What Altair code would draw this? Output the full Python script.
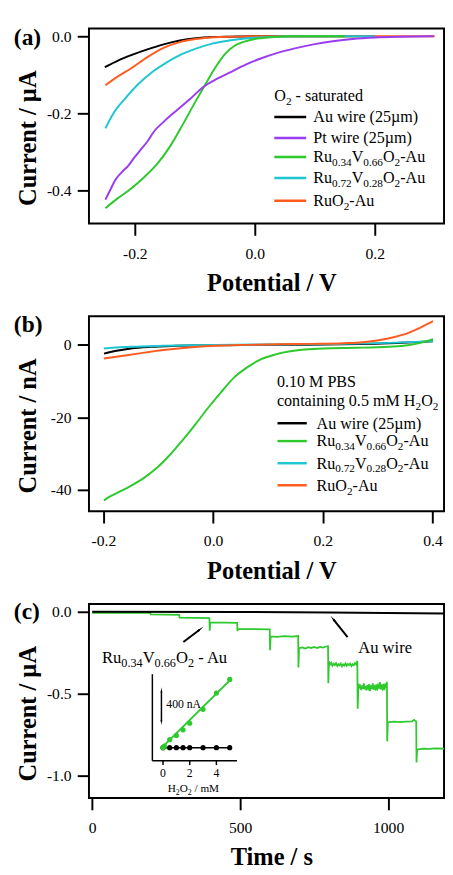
import altair as alt
import pandas as pd

FONT = "Liberation Serif"
BLACK, PURPLE, GREEN, CYAN, ORANGE = "#000000", "#9a3cf2", "#2dc92d", "#1ec6d2", "#ff5b1f"
W = 364

# ---------------- panel (a): O2-saturated, current / uA vs potential / V ----------------
a_au_v = [-0.250, -0.228, -0.206, -0.179, -0.152, -0.125, -0.098, -0.070, -0.040, 0.000, 0.100, 0.200]
a_au_i = [-0.080, -0.063, -0.049, -0.034, -0.021, -0.011, -0.005, -0.002, -0.001, 0.000, 0.000, 0.000]
a_pt_v = [-0.249, -0.241, -0.233, -0.222, -0.211, -0.201, -0.190, -0.179, -0.168, -0.152, -0.130, -0.108,
          -0.087, -0.065, -0.043, -0.016, 0.011, 0.038, 0.065, 0.098, 0.130, 0.163, 0.201, 0.244, 0.298]
a_pt_i = [-0.424, -0.399, -0.374, -0.353, -0.336, -0.315, -0.294, -0.273, -0.247, -0.222, -0.192, -0.163,
          -0.133, -0.112, -0.095, -0.074, -0.057, -0.043, -0.032, -0.021, -0.013, -0.007, -0.003, -0.001, 0.000]
a_g_v = [-0.249, -0.228, -0.206, -0.184, -0.163, -0.141, -0.119, -0.098, -0.081, -0.065, -0.049, -0.033,
         -0.016, 0.000, 0.027, 0.065, 0.150]
a_g_i = [-0.446, -0.420, -0.395, -0.365, -0.332, -0.285, -0.226, -0.167, -0.121, -0.079, -0.045, -0.024,
         -0.013, -0.007, -0.0025, 0.000, 0.000]
a_c_v = [-0.249, -0.236, -0.217, -0.195, -0.173, -0.152, -0.125, -0.098, -0.071, -0.043, -0.011, 0.022, 0.065, 0.200]
a_c_i = [-0.239, -0.201, -0.163, -0.125, -0.095, -0.073, -0.049, -0.032, -0.019, -0.011, -0.005, -0.002, 0.000, 0.000]
a_o_v = [-0.249, -0.228, -0.206, -0.179, -0.152, -0.125, -0.098, -0.071, -0.033, 0.020, 0.300]
a_o_i = [-0.127, -0.104, -0.083, -0.054, -0.030, -0.015, -0.007, -0.0025, -0.0008, 0.000, 0.000]

# ---------------- panel (b): 0.5 mM H2O2, current / nA vs potential / V ----------------
b_g_v = [-0.199, -0.191, -0.173, -0.150, -0.126, -0.103, -0.079, -0.056, -0.032, -0.009, 0.015, 0.038,
         0.062, 0.085, 0.114, 0.144, 0.173, 0.202, 0.261, 0.320, 0.355, 0.378, 0.401]
b_g_i = [-42.95, -42.06, -40.7, -38.9, -36.7, -34.0, -30.4, -26.4, -21.9, -17.4, -13.0, -9.1,
         -6.3, -4.2, -2.7, -1.8, -1.3, -1.07, -0.9, -0.6, -0.2, 0.45, 1.5]
b_o_v = [-0.199, -0.173, -0.138, -0.091, -0.044, 0.003, 0.062, 0.120, 0.179, 0.238, 0.273, 0.302,
         0.331, 0.355, 0.378, 0.401]
b_o_i = [-3.85, -3.3, -2.5, -1.5, -0.8, -0.36, -0.09, 0.09, 0.18, 0.36, 0.63, 1.16, 2.06, 3.13, 4.65, 6.44]
b_au_v = [-0.199, -0.179, -0.150, -0.114, -0.067, -0.009, 0.085, 0.202, 0.320, 0.401]
b_au_i = [-2.5, -1.8, -1.07, -0.63, -0.36, -0.18, -0.09, 0.0, 0.36, 0.9]
b_c_v = [-0.199, -0.150, -0.091, -0.032, 0.085, 0.202, 0.320, 0.401]
b_c_i = [-1.07, -0.63, -0.36, -0.18, 0.0, 0.09, 0.45, 0.9]

# ---------------- panel (c): amperometric response, current / uA vs time / s ----------------
c_g_t = [0, 100, 197, 198, 250, 294, 295, 350, 396, 397, 399, 450, 490, 491, 493, 550, 600,
         601, 603, 625, 650, 675, 696,
         697, 699, 710, 720, 730, 740, 750, 760, 770, 780, 790, 797,
         798, 800, 804, 808, 812, 816, 820, 824, 828, 832, 836, 840, 844, 848, 852, 856, 860, 864,
         868, 872, 876, 880, 884, 888, 892, 896,
         897, 900, 903, 906, 909, 912, 915, 918, 921, 924, 927, 930, 933, 936, 939, 942, 945, 948,
         951, 954, 957, 960, 963, 966, 969, 972, 975, 978, 981, 984, 987, 990, 993, 996,
         997, 999, 1020, 1040, 1060, 1080, 1088, 1093, 1095,
         1096, 1098, 1120, 1140, 1160, 1190]
c_g_i = [-0.006, -0.006, -0.007, -0.016, -0.017, -0.018, -0.036, -0.037, -0.039, -0.115, -0.064, -0.066,
         -0.068, -0.118, -0.104, -0.105, -0.107,
         -0.235, -0.150, -0.153, -0.149, -0.152, -0.148,
         -0.340, -0.222, -0.218, -0.224, -0.216, -0.222, -0.215, -0.221, -0.214, -0.219, -0.212, -0.210,
         -0.437, -0.302, -0.322, -0.312, -0.330, -0.318, -0.326, -0.314, -0.331, -0.320, -0.327, -0.316,
         -0.333, -0.321, -0.328, -0.315, -0.330, -0.319, -0.325, -0.317, -0.332, -0.320, -0.327, -0.313,
         -0.322, -0.300,
         -0.593, -0.440, -0.468, -0.445, -0.478, -0.452, -0.470, -0.438, -0.474, -0.455, -0.480, -0.448,
         -0.466, -0.442, -0.485, -0.450, -0.472, -0.437, -0.476, -0.458, -0.470, -0.444, -0.481, -0.452,
         -0.468, -0.430, -0.475, -0.455, -0.470, -0.440, -0.478, -0.450, -0.465, -0.428,
         -0.792, -0.676, -0.672, -0.675, -0.671, -0.670, -0.660, -0.668, -0.670,
         -0.921, -0.842, -0.836, -0.838, -0.835, -0.836]
c_au_t = [0, 500, 800, 1190]
c_au_i = [0.0, -0.001, -0.004, -0.010]
# annotation arrows (tail -> head), in data units
arr_t1 = [308, 863]
arr_i1 = [-0.185, -0.155]
arr_t2 = [363, 815]
arr_i2 = [-0.109, -0.046]
arr_ang = [52.6, 322.0]

# inset: response vs H2O2 concentration
in_g_c = [0, 0.1, 0.5, 1.0, 1.5, 2.0, 3.0, 4.0, 5.0]
in_g_i = [0, 20, 104, 159, 231, 316, 496, 707, 884]
in_b_c = [0, 0.5, 1.0, 1.5, 2.0, 3.0, 4.0, 5.0]
in_b_i = [0, 0, 0, 0, 0, 0, 0, 0]
in_fit_c = [-0.15, 5.12]
in_fit_i = [-9, 891]
in_ticks = [0, 2, 4]

# ---------------- helpers ----------------
TW = {' ': 0.25, '(': 0.333, ')': 0.333, '-': 0.333, '.': 0.25, '/': 0.278, 'A': 0.722, 'B': 0.667,
      'H': 0.722, 'M': 0.889, 'O': 0.722, 'P': 0.556, 'R': 0.667, 'S': 0.556, 'V': 0.722, 'a': 0.444,
      'c': 0.444, 'd': 0.5, 'e': 0.444, 'g': 0.5, 'i': 0.278, 'l': 0.278, 'm': 0.778, 'n': 0.5,
      'o': 0.5, 'r': 0.333, 's': 0.389, 't': 0.278, 'u': 0.5, 'w': 0.722, 'µ': 0.5}


def tw(s, fs):
    return sum(TW.get(ch, 0.5) for ch in s) * fs


def rich(parts, x, y, fs, sfs, sdy):
    rows = []
    for txt, sub in parts:
        size = sfs if sub else fs
        st = txt.lstrip(' ')
        x += tw(txt[:len(txt) - len(st)], size)
        rows.append(dict(px=x, py=y + (sdy if sub else 0), txt=st, fs=size))
        x += tw(st, size)
    return rows


def neg_expr(fmt):
    return "replace(format(datum.value, '%s'), '\u2212', '-')" % fmt


def pixel_layers(texts, label, label_y, swatches):
    layers = []
    tdf = pd.DataFrame(texts)
    layers.append(alt.Chart(tdf).mark_text(align='left', baseline='alphabetic', font=FONT, color='black').encode(
        x=alt.X('px:Q', scale=None, axis=None), y=alt.Y('py:Q', scale=None, axis=None),
        text='txt:N', size=alt.Size('fs:Q', scale=None, legend=None)))
    layers.append(alt.Chart(pd.DataFrame({'t': [label]})).mark_text(
        align='left', baseline='alphabetic', font=FONT, fontSize=24, fontWeight='bold', color='black').encode(
        x=alt.value(-77), y=alt.value(label_y), text='t:N'))
    if swatches:
        sdf = pd.DataFrame(swatches)
        layers.append(alt.Chart(sdf).mark_rule(strokeWidth=2.5).encode(
            x=alt.X('px:Q', scale=None, axis=None), x2='px2:Q',
            y=alt.Y('py:Q', scale=None, axis=None), color=alt.Color('col:N', scale=None, legend=None)))
    return layers


def curve_chart(series, xdom, ydom, xvals, yvals, xfmt, yfmt, ytitle):
    rows = []
    for name, xs, ys in series:
        for k, (xv, yv) in enumerate(zip(xs, ys)):
            rows.append(dict(s=name, x=xv, y=yv, k=k))
    df = pd.DataFrame(rows)
    names = [s[0] for s in series]
    cmap = {'Au': BLACK, 'Pt': PURPLE, 'RV34': GREEN, 'RV72': CYAN, 'RuO2': ORANGE}
    return alt.Chart(df).mark_line(strokeWidth=2, clip=True, interpolate='monotone').encode(
        x=alt.X('x:Q', scale=alt.Scale(domain=xdom, nice=False, zero=False),
                axis=alt.Axis(values=xvals, labelExpr=neg_expr(xfmt), title='Potential / V',
                              titleX=187, titleY=69, titleBaseline='alphabetic')),
        y=alt.Y('y:Q', scale=alt.Scale(domain=ydom, nice=False, zero=False),
                axis=alt.Axis(values=yvals, labelExpr=neg_expr(yfmt), title=ytitle,
                              titleX=-55, titleY=112, titleBaseline='alphabetic')),
        color=alt.Color('s:N', scale=alt.Scale(domain=names, range=[cmap[n] for n in names]), legend=None),
        order='k:Q')


FS, SFS, SDY = 16.5, 11.5, 4
RV34 = [("Ru", 0), ("0.34", 1), ("V", 0), ("0.66", 1), ("O", 0), ("2", 1), ("-Au", 0)]
RV72 = [("Ru", 0), ("0.72", 1), ("V", 0), ("0.28", 1), ("O", 0), ("2", 1), ("-Au", 0)]
RUO2 = [("RuO", 0), ("2", 1), ("-Au", 0)]

# ---------------- panel (a) ----------------
ca = curve_chart([('Au', a_au_v, a_au_i), ('RuO2', a_o_v, a_o_i), ('RV72', a_c_v, a_c_i),
                  ('RV34', a_g_v, a_g_i), ('Pt', a_pt_v, a_pt_i)],
                 [-0.2764, 0.3154], [-0.486, 0.0203], [-0.2, 0.0, 0.2], [0.0, -0.2, -0.4],
                 '.1f', '.1f', 'Current / µA')
ta = rich([("O", 0), ("2", 1), (" - saturated", 0)], 190, 74.5, FS, SFS, SDY)
a_rows = [90.7, 112.3, 131.7, 153.3, 176.7]
a_entries = [[("Au wire (25µm)", 0)], [("Pt wire (25µm)", 0)], RV34, RV72, RUO2]
a_cols = [BLACK, PURPLE, GREEN, CYAN, ORANGE]
sw_a = []
for yy, parts, col in zip(a_rows, a_entries, a_cols):
    ta += rich(parts, 230, yy + 5.5, FS, SFS, SDY)
    sw_a.append(dict(px=190, px2=222.7, py=yy, col=col))
pa = alt.layer(ca, *pixel_layers(ta, '(a)', 17, sw_a)).resolve_scale(
    x='independent', y='independent').properties(width=W, height=200)

# ---------------- panel (b) ----------------
cb = curve_chart([('Au', b_au_v, b_au_i), ('RV72', b_c_v, b_c_i), ('RuO2', b_o_v, b_o_i),
                  ('RV34', b_g_v, b_g_i)],
                 [-0.2264, 0.421], [-45.9, 7.79], [-0.2, 0.0, 0.2, 0.4], [0, -20, -40],
                 '.1f', 'd', 'Current / nA')
tb = rich([("0.10 M PBS", 0)], 192.7, 73, FS, SFS, SDY)
tb += rich([("containing 0.5 mM H", 0), ("2", 1), ("O", 0), ("2", 1)], 192.7, 92.5, FS, SFS, SDY)
b_rows = [109.7, 128.0, 150.7, 173.3]
b_entries = [[("Au wire (25µm)", 0)], RV34, RV72, RUO2]
b_cols = [BLACK, GREEN, CYAN, ORANGE]
sw_b = []
for yy, parts, col in zip(b_rows, b_entries, b_cols):
    tb += rich(parts, 233.3, yy + 5.5, FS, SFS, SDY)
    sw_b.append(dict(px=193.3, px2=223.3, py=yy, col=col))
pb = alt.layer(cb, *pixel_layers(tb, '(b)', 16, sw_b)).resolve_scale(
    x='independent', y='independent').properties(width=W, height=200)

# ---------------- panel (c) ----------------
xs_c = alt.Scale(domain=[-11, 1189], nice=False, zero=False)
ys_c = alt.Scale(domain=[-1.139, 0.048], nice=False, zero=False)
g_df = pd.DataFrame({'t': c_g_t, 'i': c_g_i, 'k': list(range(len(c_g_t)))})
au_df = pd.DataFrame({'t': c_au_t, 'i': c_au_i, 'k': list(range(len(c_au_t)))})
c_green = alt.Chart(g_df).mark_line(strokeWidth=1.8, color=GREEN, clip=True).encode(
    x=alt.X('t:Q', scale=xs_c, axis=alt.Axis(values=[0, 500, 1000], labelExpr=neg_expr('d'), title='Time / s',
                                             titleX=187, titleY=68, titleBaseline='alphabetic')),
    y=alt.Y('i:Q', scale=ys_c, axis=alt.Axis(values=[0.0, -0.5, -1.0], labelExpr=neg_expr('.1f'),
                                             title='Current / µA', titleX=-55, titleY=112,
                                             titleBaseline='alphabetic')),
    order='k:Q')
c_black = alt.Chart(au_df).mark_line(strokeWidth=2, color=BLACK, clip=True).encode(
    x=alt.X('t:Q', scale=xs_c), y=alt.Y('i:Q', scale=ys_c), order='k:Q')
arr_df = pd.DataFrame({'t1': arr_t1, 'i1': arr_i1, 't2': arr_t2, 'i2': arr_i2, 'a': arr_ang})
c_arr = alt.Chart(arr_df).mark_rule(strokeWidth=2, color=BLACK).encode(
    x=alt.X('t1:Q', scale=xs_c), x2='t2:Q', y=alt.Y('i1:Q', scale=ys_c), y2='i2:Q')
c_head = alt.Chart(arr_df).mark_point(shape='wedge', filled=True, color=BLACK, size=70, opacity=1).encode(
    x=alt.X('t2:Q', scale=xs_c), y=alt.Y('i2:Q', scale=ys_c), angle=alt.Angle('a:Q', scale=None))
pc_main = alt.layer(c_green, c_black, c_arr, c_head)

xs_in = alt.Scale(domain=[-0.8, 5.54], range=[65, 151.7], nice=False, zero=False)
ys_in = alt.Scale(domain=[-169, 951], range=[160.7, 72], nice=False, zero=False)
ax_df = pd.DataFrame({'x1': [-0.8, -0.8], 'y1': [-169, -169], 'x2': [-0.8, 5.54], 'y2': [951, -169]})
in_axes = alt.Chart(ax_df).mark_rule(strokeWidth=1.5, color=BLACK).encode(
    x=alt.X('x1:Q', scale=xs_in, axis=None), x2='x2:Q', y=alt.Y('y1:Q', scale=ys_in, axis=None), y2='y2:Q')
tk_df = pd.DataFrame({'x': in_ticks, 'y1': [-169] * 3, 'y2': [-225] * 3, 'lab': [str(v) for v in in_ticks]})
in_tk = alt.Chart(tk_df).mark_rule(strokeWidth=1.5, color=BLACK).encode(
    x=alt.X('x:Q', scale=xs_in, axis=None), y=alt.Y('y1:Q', scale=ys_in, axis=None), y2='y2:Q')
in_tl = alt.Chart(tk_df).mark_text(font=FONT, fontSize=12, baseline='middle', dy=13, color=BLACK).encode(
    x=alt.X('x:Q', scale=xs_in, axis=None), y=alt.Y('y1:Q', scale=ys_in, axis=None), text='lab:N')
fit_df = pd.DataFrame({'c': in_fit_c, 'i': in_fit_i})
in_fit = alt.Chart(fit_df).mark_line(strokeWidth=2, color=GREEN).encode(
    x=alt.X('c:Q', scale=xs_in, axis=None), y=alt.Y('i:Q', scale=ys_in, axis=None))
bl_df = pd.DataFrame({'c': in_b_c, 'i': in_b_i})
in_bl = alt.Chart(bl_df).mark_line(strokeWidth=1.5, color=BLACK).encode(
    x=alt.X('c:Q', scale=xs_in, axis=None), y=alt.Y('i:Q', scale=ys_in, axis=None))
in_bp = alt.Chart(bl_df).mark_point(filled=True, size=28, color=BLACK, opacity=1).encode(
    x=alt.X('c:Q', scale=xs_in, axis=None), y=alt.Y('i:Q', scale=ys_in, axis=None))
gp_df = pd.DataFrame({'c': in_g_c, 'i': in_g_i})
in_gp = alt.Chart(gp_df).mark_point(filled=True, size=28, color=GREEN, opacity=1).encode(
    x=alt.X('c:Q', scale=xs_in, axis=None), y=alt.Y('i:Q', scale=ys_in, axis=None))
bar_df = pd.DataFrame({'c': [-0.12, -0.12], 'i': [736, 336], 'a': [0, 180]})
in_bar = alt.Chart(bar_df).mark_line(strokeWidth=1.5, color=BLACK).encode(
    x=alt.X('c:Q', scale=xs_in, axis=None), y=alt.Y('i:Q', scale=ys_in, axis=None))
in_barh = alt.Chart(bar_df).mark_point(shape='wedge', filled=True, size=40, color=BLACK, opacity=1).encode(
    x=alt.X('c:Q', scale=xs_in, axis=None), y=alt.Y('i:Q', scale=ys_in, axis=None),
    angle=alt.Angle('a:Q', scale=None))
pc_inset = alt.layer(in_axes, in_tk, in_tl, in_fit, in_bl, in_bp, in_gp, in_bar, in_barh)

tc = rich([("Ru", 0), ("0.34", 1), ("V", 0), ("0.66", 1), ("O", 0), ("2", 1), (" - Au", 0)],
          13.3, 61, 17, 12.5, 4)
tc += rich([("Au wire", 0)], 276, 50, 17, 12, 4)
tc += rich([("400 nA", 0)], 79.3, 107, 12, 8, 3)
tc += rich([("H", 0), ("2", 1), ("O", 0), ("2", 1), (" / mM", 0)], 80.7, 193, 11.5, 8, 3)
pc = alt.layer(pc_main, pc_inset, *pixel_layers(tc, '(c)', 15, None)).resolve_scale(
    x='independent', y='independent').properties(width=W, height=199)

chart = alt.vconcat(pa, pb, pc, spacing=95, bounds='flush').properties(
    padding={'left': 5, 'top': 7, 'right': 0, 'bottom': 0}
).configure_view(stroke='black', strokeWidth=2).configure_axis(
    labelFont=FONT, labelFontSize=16, labelColor='black', labelFlush=False,
    titleFont=FONT, titleFontSize=25, titleFontWeight='bold', titleColor='black',
    tickColor='black', tickWidth=2, tickSize=12, domain=False, grid=False
).configure_axisX(labelPadding=10.5).configure_axisY(labelPadding=6.3)

chart.save("out.html", embed_options={"renderer": "svg", "actions": False})
